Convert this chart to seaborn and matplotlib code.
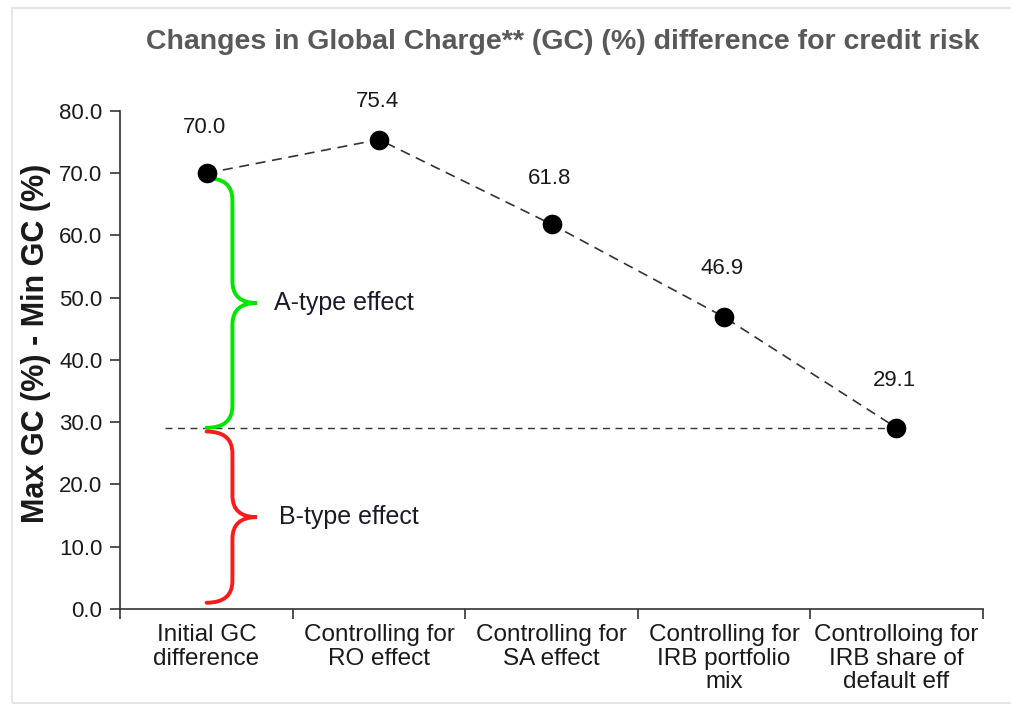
import numpy as np
import pandas as pd
import seaborn as sns
import matplotlib.pyplot as plt
from matplotlib.path import Path
from matplotlib.patches import PathPatch, Rectangle

# data
categories = ["Initial GC\ndifference", "Controlling for\nRO effect", "Controlling for\nSA effect",
              "Controlling for\nIRB portfolio\nmix", "Controlloing for\nIRB share of\ndefault eff"]
gc_diff = [70.0, 75.4, 61.8, 46.9, 29.1]
a_type = (70.0, 29.1)   # top, bottom of green brace
b_type = (28.5, 1.0)    # top, bottom of red brace

sns.set_theme(style="white")
plt.rcParams['font.family'] = ['Liberation Sans', 'DejaVu Sans']

df = pd.DataFrame({"pos": np.arange(len(categories)), "gc": gc_diff})
label_gap = [7.4, 6.1, 7.3, 7.8, 7.6]

fig = plt.figure(figsize=(10.11, 7.11), dpi=100)
fig.patches.append(Rectangle((12 / 1011, 8 / 711), 1.0, 695 / 711, transform=fig.transFigure,
                             fill=False, edgecolor="#e6e6e6", linewidth=1.5))
ax = fig.add_axes([0.119, 0.1435, 0.853, 0.7005])

# horizontal reference at last value
ax.plot([-0.24, df["pos"].iloc[-1]], [gc_diff[-1], gc_diff[-1]], color="#333333",
        linestyle=(0, (5, 4)), linewidth=1.0, zorder=1)

sns.lineplot(data=df, x="pos", y="gc", ax=ax, color="#333333", linewidth=1.2,
             linestyle=(0, (6, 4)), zorder=2)
sns.scatterplot(data=df, x="pos", y="gc", ax=ax, color="black", s=200, zorder=3,
                edgecolor="black", linewidth=0)

for p, v, g in zip(df["pos"], df["gc"], label_gap):
    ax.text(p - 0.01, v + g, f"{v:.1f}", ha="center", va="center", fontsize=16, color="#1a1a1a")


def brace(top, bot, color):
    x0, x1, xt, r = 0.0, 0.15, 0.29, 3.5
    mid = (top + bot) / 2
    verts = [(x0, top), (x1, top), (x1, top - r),
             (x1, mid + r),
             (x1, mid), (xt, mid),
             (x1, mid), (x1, mid - r),
             (x1, bot + r),
             (x1, bot), (x0, bot)]
    codes = [Path.MOVETO, Path.CURVE3, Path.CURVE3, Path.LINETO, Path.CURVE3, Path.CURVE3,
             Path.CURVE3, Path.CURVE3, Path.LINETO, Path.CURVE3, Path.CURVE3]
    ax.add_patch(PathPatch(Path(verts, codes), fill=False, edgecolor=color, linewidth=2.8,
                           capstyle="round", zorder=2))
    return mid


m = brace(a_type[0] - 0.8, a_type[1], "#00e600")
ax.text(0.39, m, "A-type effect", ha="left", va="center", fontsize=18, color="#1a1a2a")
m = brace(b_type[0], b_type[1], "#ff1a1a")
ax.text(0.42, m, "B-type effect", ha="left", va="center", fontsize=18, color="#1a1a2a")

ax.set_xlim(-0.5, len(categories) - 0.5)
ax.set_ylim(0, 80)
ax.set_yticks(np.arange(0, 81, 10))
ax.set_yticklabels([f"{t:.1f}" for t in np.arange(0, 81, 10)], fontsize=16, color="#1a1a1a")
ax.set_xticks(np.arange(-0.5, len(categories), 1.0))
ax.set_xticklabels([])
ax.set_xticks(np.arange(len(categories)), minor=True)
ax.set_xticklabels(categories, minor=True, fontsize=17.5, color="#1a1a1a", linespacing=1.08)
ax.tick_params(axis="x", which="minor", length=0, pad=11)
ax.tick_params(axis="x", which="major", direction="out", length=7, width=1.2, color="#333333", bottom=True)
ax.tick_params(axis="y", direction="out", length=7, width=1.2, color="#333333", left=True, pad=6)

ax.set_xlabel("")
ax.set_ylabel("Max GC (%) - Min GC (%)", fontsize=22, fontweight="bold", color="#1a1a1a")
ax.yaxis.set_label_coords(-0.08, 0.534)
for s in ["top", "right"]:
    ax.spines[s].set_visible(False)
for s in ["left", "bottom"]:
    ax.spines[s].set_color("#333333")
    ax.spines[s].set_linewidth(1.2)

fig.text(0.557, 0.941, "Changes in Global Charge** (GC) (%) difference for credit risk",
         ha="center", va="center", fontsize=20.5, fontweight="bold", color="#595959")

fig.savefig("out.png", dpi=100)
